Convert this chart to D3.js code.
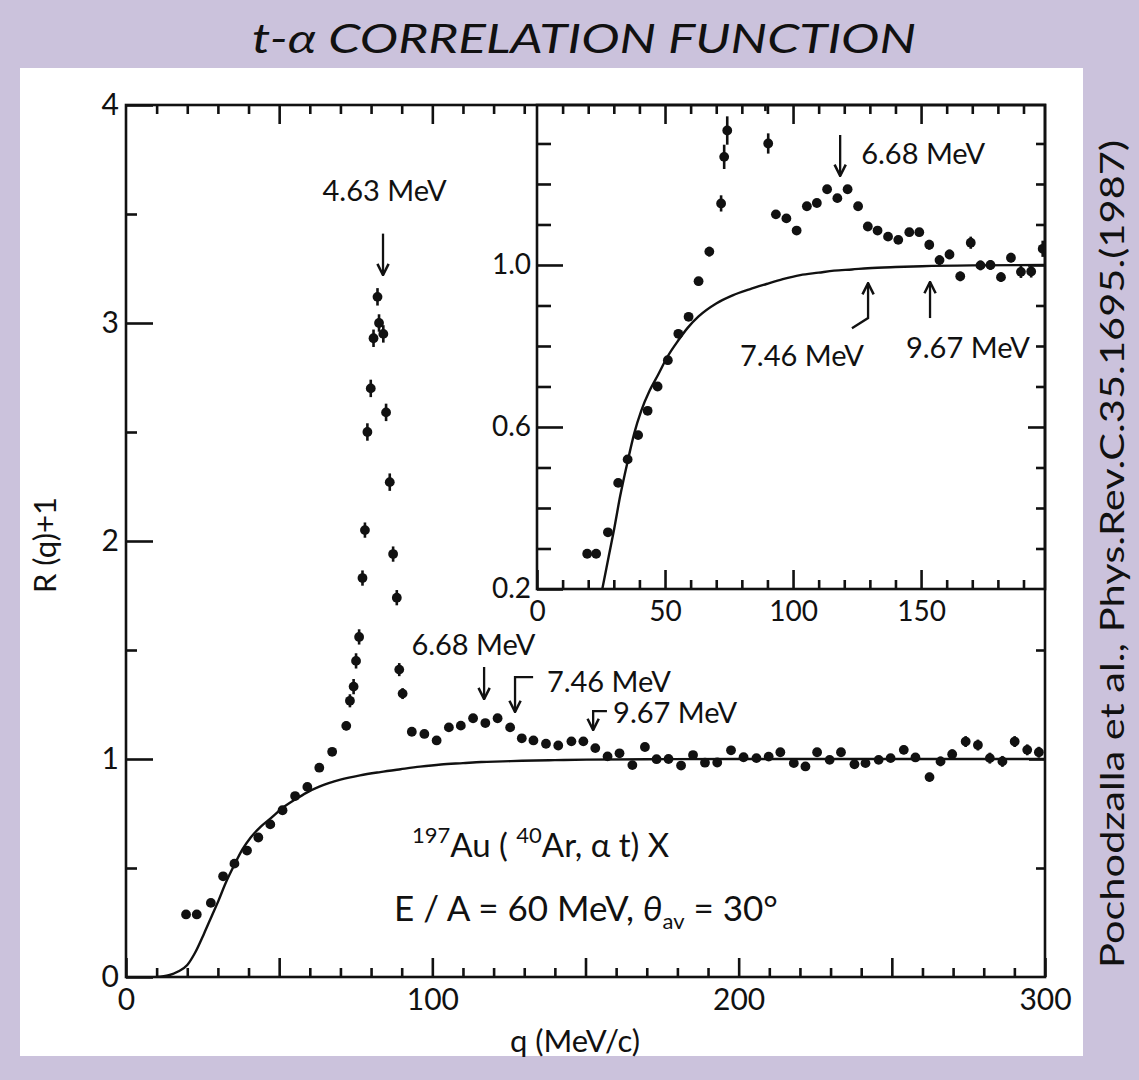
<!DOCTYPE html>
<html>
<head>
<meta charset="utf-8">
<script src="https://cdn.jsdelivr.net/npm/d3@7"></script>
<style>
  body { margin: 0; background: #cbc2dc; }
  svg text { font-family: Lato, "Open Sans", "DejaVu Sans", sans-serif; fill: #111; }
</style>
</head>
<body>
<div id="grafico"></div>
<script>
/* t-alpha correlation function, Au(Ar, alpha t)X, with zoomed inset */

// 1) data ------------------------------------------------------------
const qVals = [
  19.6, 23.1, 27.7, 31.7, 35.4, 39.5, 43.2, 47.1, 51.1, 55.2, 59.2, 63.1, 67.3,
  71.9, 73.1, 74.3, 75.1, 76.1, 77.2, 78.0, 78.8, 79.9, 80.8, 82.1, 82.6, 84.0, 84.9, 86.1, 87.2, 88.4, 89.2, 90.3,
  93.3, 97.4, 101.4, 105.4, 109.3, 113.3, 117.3, 121.3, 125.4, 129.2, 133.0, 137.1, 141.1, 145.4, 149.3, 153.2,
  157.2, 161.1, 165.3, 169.4, 173.2, 177.1, 181.2, 185.1, 189.0, 193.0, 197.5,
  201.6, 205.8, 209.8, 213.6, 218.0, 221.8, 225.6, 229.7, 233.4, 237.8, 241.4, 245.7, 249.6,
  253.9, 257.7, 262.3, 265.9, 269.7, 274.1, 278.1, 282.0, 286.1, 290.1, 294.2, 298.0
];
const rVals = [
  0.287, 0.287, 0.34, 0.462, 0.52, 0.58, 0.64, 0.70, 0.765, 0.83, 0.872, 0.96, 1.033,
  1.152, 1.267, 1.332, 1.45, 1.56, 1.83, 2.05, 2.50, 2.70, 2.93, 3.12, 3.00, 2.95, 2.59, 2.27, 1.94, 1.74, 1.41, 1.30,
  1.125, 1.115, 1.085, 1.145, 1.153, 1.187, 1.165, 1.187, 1.145, 1.095, 1.085, 1.07, 1.062, 1.081, 1.081, 1.05,
  1.012, 1.026, 0.972, 1.055, 0.999, 1.0, 0.97, 1.018, 0.983, 0.984, 1.04,
  1.008, 1.004, 1.011, 1.031, 0.981, 0.966, 1.031, 0.996, 1.031, 0.976, 0.981, 0.996, 1.004,
  1.042, 1.007, 0.917, 0.989, 1.022, 1.080, 1.064, 1.004, 0.989, 1.080, 1.042, 1.031
];
const rErr = [
  0.01, 0.01, 0.01, 0.01, 0.01, 0.01, 0.01, 0.01, 0.01, 0.01, 0.01, 0.01, 0.012,
  0.02, 0.03, 0.035, 0.035, 0.035, 0.035, 0.035, 0.04, 0.04, 0.04, 0.04, 0.04, 0.04, 0.04, 0.04, 0.035, 0.035, 0.03, 0.025,
  0.01, 0.01, 0.01, 0.01, 0.01, 0.01, 0.01, 0.01, 0.01, 0.01, 0.01, 0.01, 0.01, 0.01, 0.01, 0.012,
  0.012, 0.012, 0.012, 0.015, 0.012, 0.012, 0.012, 0.012, 0.015, 0.015, 0.02,
  0.015, 0.015, 0.015, 0.015, 0.015, 0.015, 0.015, 0.015, 0.018, 0.018, 0.018, 0.018, 0.018,
  0.02, 0.02, 0.02, 0.022, 0.022, 0.025, 0.025, 0.025, 0.025, 0.025, 0.025, 0.025
];
const data = qVals.map((q, i) => ({ q: q, r: rVals[i], e: rErr[i] }));

// fitted (no-resonance) curve
const curveQ = [10, 14, 17, 20, 22.5, 25.5, 28, 30.1, 32.5, 35.4, 38, 40.7, 44, 47.3, 51, 55.2, 59, 63.1,
  70, 76.4, 83, 89.6, 96, 102.8, 110, 116, 123, 129.2, 140, 150.3, 170, 200, 250, 300];
const curveR = [0, 0.008, 0.025, 0.055, 0.11, 0.2, 0.28, 0.347, 0.43, 0.515, 0.585, 0.64, 0.69, 0.729, 0.774, 0.814, 0.846, 0.873,
  0.905, 0.925, 0.94, 0.953, 0.965, 0.975, 0.981, 0.986, 0.989, 0.992, 0.995, 0.997, 0.999, 1.0, 1.0, 1.0];
const curve = curveQ.map((q, i) => ({ q: q, r: curveR[i] }));

// tick values
const mainXTicks = d3.range(0, 31).map(i => i * 10);
const mainXLabels = [0, 100, 200, 300];
const mainYTicks = d3.range(0, 9).map(i => i * 0.5);
const mainYLabels = [0, 1, 2, 3, 4];
const insetXTicks = d3.range(0, 20).map(i => i * 10);
const insetXLabels = [0, 50, 100, 150];
const insetYTicks = d3.range(2, 14).map(i => +(i * 0.1).toFixed(1));
const insetYLabels = [0.2, 0.6, 1.0];

// annotations, placed in each panel's own units
const mainNotes = [
  { text: "4.63 MeV", q: 84.4, r: 3.56, anchor: "middle" },
  { text: "6.68 MeV", q: 113.4, r: 1.477, anchor: "middle" },
  { text: "7.46 MeV", q: 137.4, r: 1.307, anchor: "start" },
  { text: "9.67 MeV", q: 159.0, r: 1.165, anchor: "start" }
];
const mainArrows = [
  [[83.9, 3.41], [83.9, 3.22]],
  [[116.9, 1.422], [116.9, 1.275]],
  [[132.9, 1.376], [127.0, 1.376], [127.0, 1.216]],
  [[157.0, 1.22], [152.5, 1.22], [152.5, 1.133]]
];
const insetNotes = [
  { text: "6.68 MeV", q: 126.6, r: 1.249 },
  { text: "7.46 MeV", q: 79.3, r: 0.751 },
  { text: "9.67 MeV", q: 144.1, r: 0.770 }
];
const insetArrows = [
  [[118.4, 1.321], [118.4, 1.22]],
  [[123.0, 0.844], [129.3, 0.869], [129.3, 0.955]],
  [[153.5, 0.869], [153.5, 0.958]]
];

// 2) svg and scales -------------------------------------------------
const W = 1139, H = 1080;
const svg = d3.select("#grafico").append("svg")
  .attr("width", W).attr("height", H);

svg.append("rect").attr("width", W).attr("height", H).attr("fill", "#cbc2dc");
svg.append("rect").attr("x", 20).attr("y", 68).attr("width", 1063).attr("height", 988).attr("fill", "#fff");

const x = d3.scaleLinear().domain([0, 300]).range([126, 1045]);
const y = d3.scaleLinear().domain([0, 4]).range([977, 105]);
const xi = d3.scaleLinear().domain([0, 198.4]).range([537, 1045]);
const yi = d3.scaleLinear().domain([0.2, 1.395]).range([589, 105]);

const ink = "#111";
const defs = svg.append("defs");
defs.append("clipPath").attr("id", "clipMain").append("rect")
  .attr("x", x(0)).attr("y", y(4)).attr("width", x(300) - x(0)).attr("height", y(0) - y(4));
defs.append("clipPath").attr("id", "clipInset").append("rect")
  .attr("x", xi(0)).attr("y", yi(1.395)).attr("width", xi(198.4) - xi(0)).attr("height", yi(0.2) - yi(1.395));

// draws points + curve in one panel
function drawPanel(sx, sy, clipId) {
  const g = svg.append("g").attr("clip-path", `url(#${clipId})`);
  g.append("path")
    .datum(curve)
    .attr("fill", "none").attr("stroke", ink).attr("stroke-width", 2.4)
    .attr("d", d3.line().x(d => sx(d.q)).y(d => sy(d.r)).curve(d3.curveMonotoneX));
  g.selectAll(".err").data(data).join("line")
    .attr("class", "err")
    .attr("x1", d => sx(d.q)).attr("x2", d => sx(d.q))
    .attr("y1", d => sy(d.r - d.e)).attr("y2", d => sy(d.r + d.e))
    .attr("stroke", ink).attr("stroke-width", 2.6);
  g.selectAll(".pt").data(data).join("circle")
    .attr("class", "pt")
    .attr("cx", d => sx(d.q)).attr("cy", d => sy(d.r))
    .attr("r", 4.9).attr("fill", ink);
  return g;
}

drawPanel(x, y, "clipMain");

// inset background covers the main plot
svg.append("rect")
  .attr("x", xi(0)).attr("y", yi(1.395))
  .attr("width", xi(198.4) - xi(0)).attr("height", yi(0.2) - yi(1.395))
  .attr("fill", "#fff");
drawPanel(xi, yi, "clipInset");

// 3) axes ---------------------------------------------------------------
function styleAxis(g, size) {
  g.select(".domain").remove();
  g.selectAll(".tick line").attr("stroke", ink).attr("stroke-width", 2.6);
  g.selectAll(".tick text").attr("font-size", size).attr("fill", ink)
    .attr("font-family", "Lato, 'Open Sans', sans-serif").attr("font-weight", 400);
}
const isMult = (d, m) => Math.abs(d / m - Math.round(d / m)) < 1e-6;

// main bottom
svg.append("g").attr("transform", `translate(0,${y(0)})`)
  .call(d3.axisBottom(x).tickValues(mainXTicks).tickSizeInner(-9).tickSizeOuter(0).tickPadding(12)
    .tickFormat(d => mainXLabels.includes(d) ? d : ""))
  .call(g => styleAxis(g, 30))
  .call(g => g.selectAll(".tick line").attr("y2", d => isMult(d, 50) ? -19 : -9));
// main top (left of inset)
svg.append("g").attr("transform", `translate(0,${y(4)})`)
  .call(d3.axisTop(x).tickValues(mainXTicks.filter(d => d > 0 && d <= 130)).tickSizeInner(-9).tickSizeOuter(0).tickFormat(""))
  .call(g => styleAxis(g, 30))
  .call(g => g.selectAll(".tick line").attr("y2", d => isMult(d, 50) ? 19 : 9));
// main left
svg.append("g").attr("transform", `translate(${x(0)},0)`)
  .call(d3.axisLeft(y).tickValues(mainYTicks).tickSizeInner(-11).tickSizeOuter(0).tickPadding(7)
    .tickFormat(d => mainYLabels.includes(d) ? d : ""))
  .call(g => styleAxis(g, 30))
  .call(g => g.selectAll(".tick line").attr("x2", d => isMult(d, 1) ? 27 : 11));
// main right (below inset)
svg.append("g").attr("transform", `translate(${x(300)},0)`)
  .call(d3.axisRight(y).tickValues([0.5, 1, 1.5]).tickSizeInner(-9).tickSizeOuter(0).tickFormat(""))
  .call(g => styleAxis(g, 30))
  .call(g => g.selectAll(".tick line").attr("x2", d => isMult(d, 1) ? -16 : -9));

// inset bottom
svg.append("g").attr("transform", `translate(0,${yi(0.2)})`)
  .call(d3.axisBottom(xi).tickValues(insetXTicks).tickSizeInner(-9).tickSizeOuter(0).tickPadding(12)
    .tickFormat(d => insetXLabels.includes(d) ? d : ""))
  .call(g => styleAxis(g, 28))
  .call(g => g.selectAll(".tick line").attr("y2", d => isMult(d, 50) ? -19 : -9));
// inset top
svg.append("g").attr("transform", `translate(0,${yi(1.395)})`)
  .call(d3.axisTop(xi).tickValues(insetXTicks.filter(d => d > 0)).tickSizeInner(-9).tickSizeOuter(0).tickFormat(""))
  .call(g => styleAxis(g, 28))
  .call(g => g.selectAll(".tick line").attr("y2", d => isMult(d, 50) ? 19 : 9));
// inset left
svg.append("g").attr("transform", `translate(${xi(0)},0)`)
  .call(d3.axisLeft(yi).tickValues(insetYTicks).tickSizeInner(-14).tickSizeOuter(0).tickPadding(6)
    .tickFormat(d => insetYLabels.includes(d) ? d3.format(".1f")(d) : ""))
  .call(g => styleAxis(g, 28))
  .call(g => g.selectAll(".tick line").attr("x2", d => insetYLabels.includes(d) ? 26 : 14));
// inset right
svg.append("g").attr("transform", `translate(${xi(198.4)},0)`)
  .call(d3.axisRight(yi).tickValues(insetYTicks.filter(d => d > 0.2)).tickSizeInner(-9).tickSizeOuter(0).tickFormat(""))
  .call(g => styleAxis(g, 28))
  .call(g => g.selectAll(".tick line").attr("x2", d => insetYLabels.includes(d) ? -17 : -9));

// frames
svg.append("rect")
  .attr("x", x(0)).attr("y", y(4)).attr("width", x(300) - x(0)).attr("height", y(0) - y(4))
  .attr("fill", "none").attr("stroke", ink).attr("stroke-width", 2.6);
svg.append("rect")
  .attr("x", xi(0)).attr("y", yi(1.395)).attr("width", xi(198.4) - xi(0)).attr("height", yi(0.2) - yi(1.395))
  .attr("fill", "none").attr("stroke", ink).attr("stroke-width", 2.6);

// 4) annotations -------------------------------------------------------
defs.append("marker").attr("id", "head")
  .attr("viewBox", "0 0 10 10").attr("refX", 9).attr("refY", 5)
  .attr("orient", "auto-start-reverse")
  .attr("markerUnits", "userSpaceOnUse").attr("markerWidth", 14).attr("markerHeight", 14)
  .append("path").attr("d", "M1,1 L9,5 L1,9").attr("fill", "none").attr("stroke", ink).attr("stroke-width", 1.8);

function drawArrows(list, sx, sy) {
  svg.append("g").selectAll("path").data(list).join("path")
    .attr("d", d3.line().x(p => sx(p[0])).y(p => sy(p[1])))
    .attr("fill", "none").attr("stroke", ink).attr("stroke-width", 2.3)
    .attr("marker-end", "url(#head)");
}
drawArrows(mainArrows, x, y);
drawArrows(insetArrows, xi, yi);

svg.append("g").selectAll("text").data(mainNotes).join("text")
  .attr("x", d => x(d.q)).attr("y", d => y(d.r))
  .attr("text-anchor", d => d.anchor)
  .attr("font-size", 29)
  .text(d => d.text);
svg.append("g").selectAll("text").data(insetNotes).join("text")
  .attr("x", d => xi(d.q)).attr("y", d => yi(d.r))
  .attr("font-size", 29)
  .text(d => d.text);

// reaction labels
const r1 = svg.append("text").attr("x", 412).attr("y", 857).attr("font-size", 33);
r1.append("tspan").attr("font-size", 22).attr("dy", -14).text("197");
r1.append("tspan").attr("dy", 14).text("Au ( ");
r1.append("tspan").attr("font-size", 22).attr("dy", -14).text("40");
r1.append("tspan").attr("dy", 14).text("Ar,  α t) X");

const r2 = svg.append("text").attr("x", 394).attr("y", 921).attr("font-size", 35);
r2.append("tspan").text("E / A = 60 MeV,  ");
r2.append("tspan").attr("font-style", "italic").text("θ");
r2.append("tspan").attr("font-size", 22).attr("dy", 8).text("av");
r2.append("tspan").attr("dy", -8).text(" = 30°");

// axis titles
svg.append("text").attr("x", 575).attr("y", 1052).attr("text-anchor", "middle")
  .attr("font-size", 31).text("q (MeV/c)");
svg.append("text").attr("transform", "translate(56,545) rotate(-90)").attr("text-anchor", "middle")
  .attr("font-size", 31).text("R (q)+1");

// title and citation
svg.append("text").attr("x", 584).attr("y", 53).attr("text-anchor", "middle")
  .attr("font-family", "Lato, 'Open Sans', sans-serif")
  .attr("font-style", "italic").attr("font-weight", 400).attr("font-size", 40)
  .attr("textLength", 664).attr("lengthAdjust", "spacingAndGlyphs")
  .text("t-α CORRELATION FUNCTION");
svg.append("text").attr("transform", "translate(1124,554) rotate(-90)").attr("text-anchor", "middle")
  .attr("font-family", "'Liberation Sans Narrow', 'Liberation Sans', Arial, sans-serif")
  .attr("font-size", 32)
  .attr("textLength", 828).attr("lengthAdjust", "spacingAndGlyphs")
  .text("Pochodzalla et al., Phys.Rev.C.35.1695.(1987)");
</script>
</body>
</html>
